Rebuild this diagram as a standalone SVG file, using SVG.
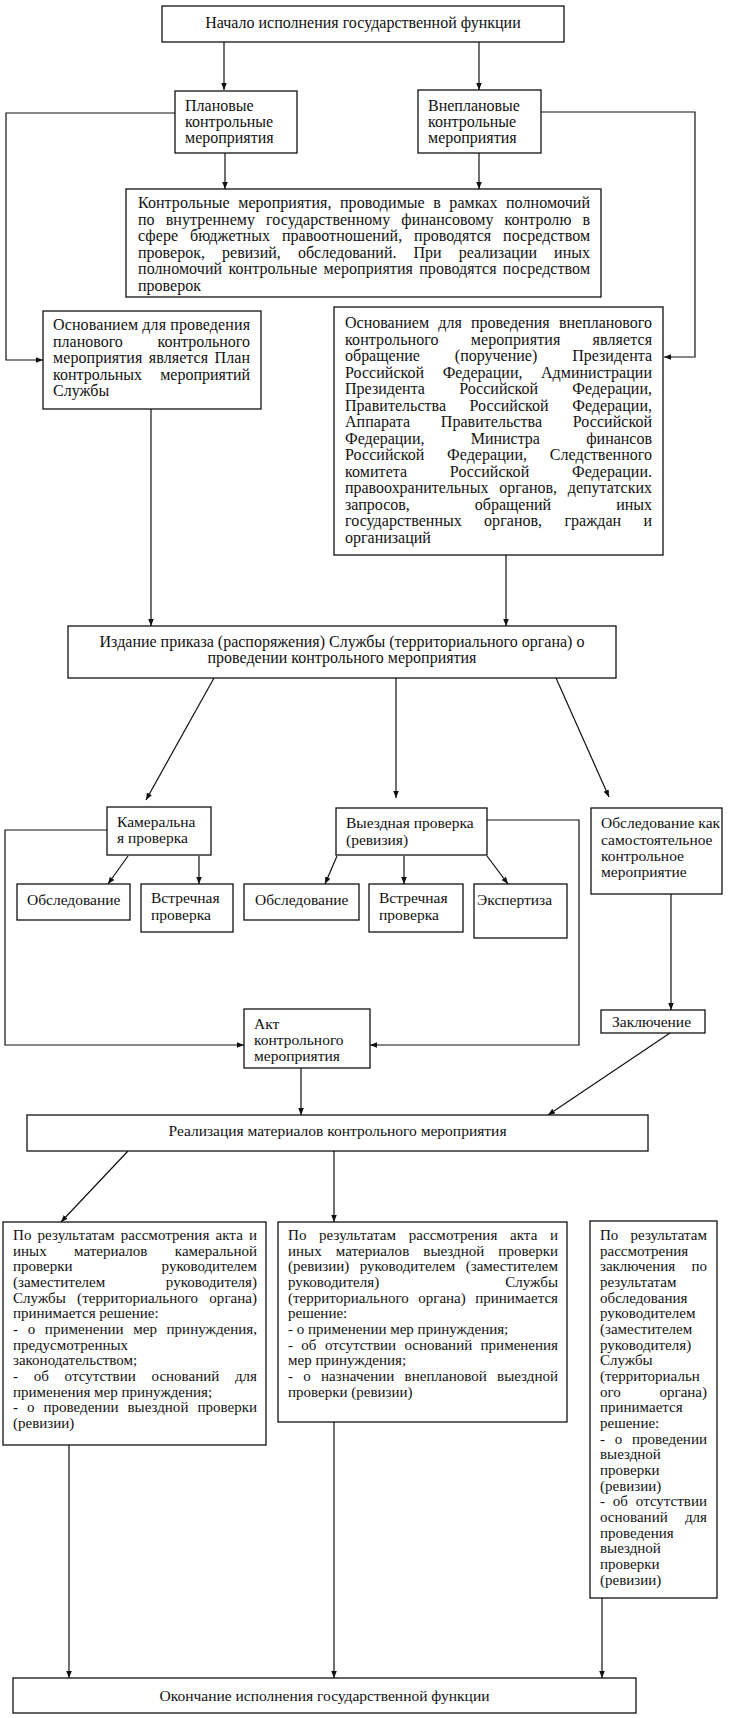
<svg xmlns="http://www.w3.org/2000/svg" width="734" height="1718" viewBox="0 0 734 1718">
<style>
.box{fill:#fff;stroke:#111;stroke-width:1.3}
.c{fill:none;stroke:#111;stroke-width:1.2}
text{font-family:"Liberation Serif","Times New Roman",serif;font-size:16px;fill:#111}
.m{font-size:15.5px}
.s{font-size:15px}
.mid{text-anchor:middle}
.end{text-anchor:end}
</style>
<defs>
<marker id="a" viewBox="0 0 10 10" refX="10" refY="5" markerWidth="7" markerHeight="7" orient="auto" markerUnits="userSpaceOnUse">
<path d="M0,1 L10,5 L0,9 z" fill="#111"/>
</marker>
</defs>
<rect width="734" height="1718" fill="#fff"/>

<g id="connectors">
<path class="c" d="M224,42 V90" marker-end="url(#a)"/>
<path class="c" d="M479,42 V90" marker-end="url(#a)"/>
<path class="c" d="M225,153 V189" marker-end="url(#a)"/>
<path class="c" d="M479,153 V189" marker-end="url(#a)"/>
<path class="c" d="M175,113 H6 V360 H43" marker-end="url(#a)"/>
<path class="c" d="M541,112 H695 V357 H664" marker-end="url(#a)"/>
<path class="c" d="M151,409 V626" marker-end="url(#a)"/>
<path class="c" d="M506,555 V626" marker-end="url(#a)"/>
<path class="c" d="M214,678 L146,800" marker-end="url(#a)"/>
<path class="c" d="M396,678 V798" marker-end="url(#a)"/>
<path class="c" d="M556,678 L609,797" marker-end="url(#a)"/>
<path class="c" d="M128,856 L108,884" marker-end="url(#a)"/>
<path class="c" d="M199,856 V884" marker-end="url(#a)"/>
<path class="c" d="M337,856 L325,884" marker-end="url(#a)"/>
<path class="c" d="M404,856 V884" marker-end="url(#a)"/>
<path class="c" d="M487,856 L508,884" marker-end="url(#a)"/>
<path class="c" d="M107,830 H5 V1045 H244" marker-end="url(#a)"/>
<path class="c" d="M487,820 H579 V1045 H370" marker-end="url(#a)"/>
<path class="c" d="M671,894 V1010" marker-end="url(#a)"/>
<path class="c" d="M301,1068 V1115" marker-end="url(#a)"/>
<path class="c" d="M670,1033 L548,1115" marker-end="url(#a)"/>
<path class="c" d="M128,1151 L61,1222" marker-end="url(#a)"/>
<path class="c" d="M334,1151 V1222" marker-end="url(#a)"/>
<path class="c" d="M69,1445 V1678" marker-end="url(#a)"/>
<path class="c" d="M334,1422 V1678" marker-end="url(#a)"/>
<path class="c" d="M602,1598 V1678" marker-end="url(#a)"/>
</g>

<g id="start">
<rect class="box" x="162" y="6" width="402" height="36"/>
<text class="mid" x="363" y="28">Начало исполнения государственной функции</text>
</g>

<g id="planned">
<rect class="box" x="175" y="91" width="122" height="62"/>
<text x="185" y="111">Плановые</text>
<text x="185" y="127">контрольные</text>
<text x="185" y="143">мероприятия</text>
</g>

<g id="unplanned">
<rect class="box" x="418" y="90" width="123" height="63"/>
<text x="428" y="111">Внеплановые</text>
<text x="428" y="127">контрольные</text>
<text x="428" y="143">мероприятия</text>
</g>

<g id="control-measures">
<rect class="box" x="126" y="189" width="475" height="108"/>
<text x="138" y="208" word-spacing="4.4" textLength="452" lengthAdjust="spacing">Контрольные мероприятия, проводимые в рамках полномочий</text>
<text x="138" y="224.5" word-spacing="7" textLength="452" lengthAdjust="spacing">по внутреннему государственному финансовому контролю в</text>
<text x="138" y="241" word-spacing="7.8" textLength="452" lengthAdjust="spacing">сфере бюджетных правоотношений, проводятся посредством</text>
<text x="138" y="257.5" word-spacing="13" textLength="452" lengthAdjust="spacing">проверок, ревизий, обследований. При реализации иных</text>
<text x="138" y="274" word-spacing="2.2" textLength="452" lengthAdjust="spacing">полномочий контрольные мероприятия проводятся посредством</text>
<text x="138" y="290.5">проверок</text>
</g>

<g id="basis-planned">
<rect class="box" x="43" y="311" width="218" height="98"/>
<text x="53" y="330" textLength="197" lengthAdjust="spacing">Основанием для проведения</text>
<text x="53" y="346.5">планового</text><text class="end" x="250" y="346.5">контрольного</text>
<text x="53" y="363" word-spacing="2.3" textLength="197" lengthAdjust="spacing">мероприятия является План</text>
<text x="53" y="379.5">контрольных</text><text class="end" x="250" y="379.5">мероприятий</text>
<text x="53" y="396">Службы</text>
</g>

<g id="basis-unplanned">
<rect class="box" x="334" y="307" width="329" height="248"/>
<text x="345" y="328" word-spacing="5.2" textLength="307" lengthAdjust="spacing">Основанием для проведения внепланового</text>
<text x="345" y="344.5" word-spacing="28" textLength="307" lengthAdjust="spacing">контрольного мероприятия является</text>
<text x="345" y="361" word-spacing="31" textLength="307" lengthAdjust="spacing">обращение (поручение) Президента</text>
<text x="345" y="377.5" word-spacing="14.4" textLength="307" lengthAdjust="spacing">Российской Федерации, Администрации</text>
<text x="345" y="394" word-spacing="30.2" textLength="307" lengthAdjust="spacing">Президента Российской Федерации,</text>
<text x="345" y="410.5" word-spacing="19.5" textLength="307" lengthAdjust="spacing">Правительства Российской Федерации,</text>
<text x="345" y="427" word-spacing="26.7" textLength="307" lengthAdjust="spacing">Аппарата Правительства Российской</text>
<text x="345" y="443.5" word-spacing="42.3" textLength="307" lengthAdjust="spacing">Федерации, Министра финансов</text>
<text x="345" y="460" word-spacing="18.7" textLength="307" lengthAdjust="spacing">Российской Федерации, Следственного</text>
<text x="345" y="476.5" word-spacing="38.6" textLength="307" lengthAdjust="spacing">комитета Российской Федерации.</text>
<text x="345" y="493" word-spacing="6.9" textLength="307" lengthAdjust="spacing">правоохранительных органов, депутатских</text>
<text x="345" y="509.5" word-spacing="61" textLength="307" lengthAdjust="spacing">запросов, обращений иных</text>
<text x="345" y="526" word-spacing="18.2" textLength="307" lengthAdjust="spacing">государственных органов, граждан и</text>
<text x="345" y="542.5">организаций</text>
</g>

<g id="order">
<rect class="box" x="68" y="626" width="548" height="52"/>
<text class="mid" x="342" y="647">Издание приказа (распоряжения) Службы (территориального органа) о</text>
<text class="mid" x="342" y="663">проведении контрольного мероприятия</text>
</g>

<g id="desk-audit">
<rect class="box" x="107" y="807" width="104" height="48"/>
<text class="m" x="117" y="827">Камеральна</text>
<text class="m" x="117" y="843">я проверка</text>
</g>

<g id="survey-1">
<rect class="box" x="17" y="884" width="113" height="36"/>
<text class="m" x="27" y="905">Обследование</text>
</g>

<g id="counter-1">
<rect class="box" x="141" y="884" width="92" height="48"/>
<text class="m" x="151" y="903">Встречная</text>
<text class="m" x="151" y="920">проверка</text>
</g>

<g id="field-audit">
<rect class="box" x="336" y="808" width="151" height="47"/>
<text class="m" x="346" y="828">Выездная проверка</text>
<text class="m" x="346" y="845">(ревизия)</text>
</g>

<g id="survey-2">
<rect class="box" x="244" y="884" width="115" height="36"/>
<text class="m" x="255" y="905">Обследование</text>
</g>

<g id="counter-2">
<rect class="box" x="369" y="884" width="94" height="48"/>
<text class="m" x="379" y="903">Встречная</text>
<text class="m" x="379" y="920">проверка</text>
</g>

<g id="expertise">
<rect class="box" x="474" y="884" width="93" height="54"/>
<text class="m" x="477" y="905">Экспертиза</text>
</g>

<g id="survey-standalone">
<rect class="box" x="591" y="808" width="131" height="86"/>
<text class="m" x="601" y="828">Обследование как</text>
<text class="m" x="601" y="845">самостоятельное</text>
<text class="m" x="601" y="861">контрольное</text>
<text class="m" x="601" y="877">мероприятие</text>
</g>

<g id="conclusion">
<rect class="box" x="601" y="1010" width="104" height="23"/>
<text class="m" x="612" y="1027">Заключение</text>
</g>

<g id="act">
<rect class="box" x="244" y="1009" width="126" height="59"/>
<text class="m" x="254" y="1029">Акт</text>
<text class="m" x="254" y="1045">контрольного</text>
<text class="m" x="254" y="1061">мероприятия</text>
</g>

<g id="realization">
<rect class="box" x="27" y="1115" width="621" height="36"/>
<text class="m mid" x="337.5" y="1136">Реализация материалов контрольного мероприятия</text>
</g>

<g id="result-desk">
<rect class="box" x="3" y="1222" width="263" height="223"/>
<text class="s" x="13" y="1240" word-spacing="2.3" textLength="244" lengthAdjust="spacing">По результатам рассмотрения акта и</text>
<text class="s" x="13" y="1255.6" word-spacing="23.6" textLength="244" lengthAdjust="spacing">иных материалов камеральной</text>
<text class="s" x="13" y="1271.3">проверки</text><text class="s end" x="257" y="1271.3">руководителем</text>
<text class="s" x="13" y="1287">(заместителем</text><text class="s end" x="257" y="1287">руководителя)</text>
<text class="s" x="13" y="1302.6" word-spacing="7.5" textLength="244" lengthAdjust="spacing">Службы (территориального органа)</text>
<text class="s" x="13" y="1318.3">принимается решение:</text>
<text class="s" x="13" y="1334" word-spacing="5.9" textLength="244" lengthAdjust="spacing">- о применении мер принуждения,</text>
<text class="s" x="13" y="1349.6">предусмотренных</text>
<text class="s" x="13" y="1365.3">законодательством;</text>
<text class="s" x="13" y="1381" word-spacing="12" textLength="244" lengthAdjust="spacing">- об отсутствии оснований для</text>
<text class="s" x="13" y="1396.6">применения мер принуждения;</text>
<text class="s" x="13" y="1412.3" word-spacing="5.2" textLength="244" lengthAdjust="spacing">- о проведении выездной проверки</text>
<text class="s" x="13" y="1428">(ревизии)</text>
</g>

<g id="result-field">
<rect class="box" x="278" y="1222" width="289" height="200"/>
<text class="s" x="288" y="1240" word-spacing="8.8" textLength="270" lengthAdjust="spacing">По результатам рассмотрения акта и</text>
<text class="s" x="288" y="1255.6" word-spacing="10.3" textLength="270" lengthAdjust="spacing">иных материалов выездной проверки</text>
<text class="s" x="288" y="1271.3" word-spacing="6.7" textLength="270" lengthAdjust="spacing">(ревизии) руководителем (заместителем</text>
<text class="s" x="288" y="1287">руководителя)</text><text class="s end" x="558" y="1287">Службы</text>
<text class="s" x="288" y="1302.6" word-spacing="5.6" textLength="270" lengthAdjust="spacing">(территориального органа) принимается</text>
<text class="s" x="288" y="1318.3">решение:</text>
<text class="s" x="288" y="1334">- о применении мер принуждения;</text>
<text class="s" x="288" y="1349.6" word-spacing="4.6" textLength="270" lengthAdjust="spacing">- об отсутствии оснований применения</text>
<text class="s" x="288" y="1365.3">мер принуждения;</text>
<text class="s" x="288" y="1381" word-spacing="6.5" textLength="270" lengthAdjust="spacing">- о назначении внеплановой выездной</text>
<text class="s" x="288" y="1396.6">проверки (ревизии)</text>
</g>

<g id="result-survey">
<rect class="box" x="590" y="1221" width="127" height="377"/>
<text class="s" x="600" y="1240">По</text><text class="s end" x="707" y="1240">результатам</text>
<text class="s" x="600" y="1255.6">рассмотрения</text>
<text class="s" x="600" y="1271.3">заключения</text><text class="s end" x="707" y="1271.3">по</text>
<text class="s" x="600" y="1287">результатам</text>
<text class="s" x="600" y="1302.6">обследования</text>
<text class="s" x="600" y="1318.3">руководителем</text>
<text class="s" x="600" y="1334">(заместителем</text>
<text class="s" x="600" y="1349.6">руководителя)</text>
<text class="s" x="600" y="1365.3">Службы</text>
<text class="s" x="600" y="1381">(территориальн</text>
<text class="s" x="600" y="1396.6">ого</text><text class="s end" x="707" y="1396.6">органа)</text>
<text class="s" x="600" y="1412.3">принимается</text>
<text class="s" x="600" y="1428">решение:</text>
<text class="s" x="600" y="1443.6" word-spacing="5.9" textLength="107" lengthAdjust="spacing">- о проведении</text>
<text class="s" x="600" y="1459.3">выездной</text>
<text class="s" x="600" y="1475">проверки</text>
<text class="s" x="600" y="1490.6">(ревизии)</text>
<text class="s" x="600" y="1506.3" word-spacing="4.1" textLength="107" lengthAdjust="spacing">- об отсутствии</text>
<text class="s" x="600" y="1522">оснований</text><text class="s end" x="707" y="1522">для</text>
<text class="s" x="600" y="1537.6">проведения</text>
<text class="s" x="600" y="1553.3">выездной</text>
<text class="s" x="600" y="1569">проверки</text>
<text class="s" x="600" y="1584.6">(ревизии)</text>
</g>

<g id="end">
<rect class="box" x="13" y="1678" width="623" height="35"/>
<text class="m mid" x="324.5" y="1701">Окончание исполнения государственной функции</text>
</g>
</svg>
